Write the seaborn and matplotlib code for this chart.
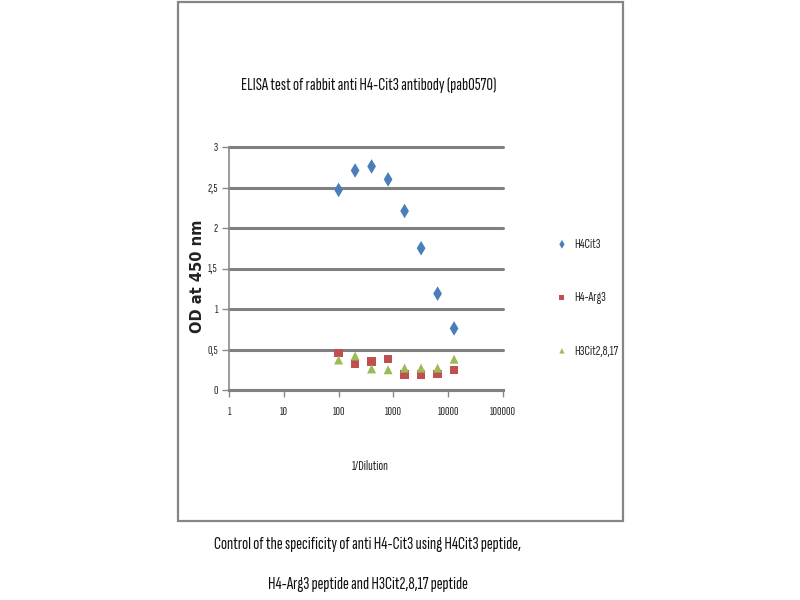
# ELISA titration plot: OD at 450 nm vs 1/dilution for three peptides.

import seaborn as sns
import pandas as pd
import matplotlib
matplotlib.use("Agg")
import matplotlib.pyplot as plt
from matplotlib.ticker import FuncFormatter, FixedLocator, NullLocator
from matplotlib.patches import Rectangle

sns.set_theme(style="white")
narrow = ["Sofia Sans Extra Condensed", "Roboto Condensed", "DejaVu Sans"]
plt.rcParams["font.family"] = narrow
plt.rcParams["font.weight"] = "medium"

# Dilution series (1/dilution).
dilutions = [100, 200, 400, 800, 1600, 3200, 6400, 12800]

# OD readings for each peptide.
h4cit3 = [2.47, 2.71, 2.76, 2.60, 2.21, 1.75, 1.19, 0.76]
h4arg3 = [0.46, 0.32, 0.35, 0.38, 0.19, 0.19, 0.20, 0.25]
h3cit = [0.37, 0.42, 0.26, 0.25, 0.27, 0.27, 0.27, 0.38]

series_names = ["H4Cit3", "H4-Arg3", "H3Cit2,8,17"]
x_ticks = [1, 10, 100, 1000, 10000, 100000]
y_ticks = [0, 0.5, 1, 1.5, 2, 2.5, 3]

df = pd.DataFrame({
    "dilution": dilutions * 3,
    "od": h4cit3 + h4arg3 + h3cit,
    "peptide": [series_names[0]] * 8 + [series_names[1]] * 8 + [series_names[2]] * 8,
})

palette = {"H4Cit3": "#4a7ebb", "H4-Arg3": "#c0504d", "H3Cit2,8,17": "#9bbb59"}
markers = {"H4Cit3": "d", "H4-Arg3": "s", "H3Cit2,8,17": "^"}
sizes = {"H4Cit3": 55, "H4-Arg3": 36, "H3Cit2,8,17": 42}

fig = plt.figure(figsize=(8, 6), dpi=100)

# Outer frame around the chart area.
fig.patches.append(Rectangle((178 / 800, 1 - 521 / 600), (623 - 178) / 800, (521 - 2) / 600,
                             transform=fig.transFigure, fill=False, edgecolor="#858585",
                             linewidth=1.6))

ax = fig.add_axes([229 / 800, 1 - 390 / 600, (503 - 229) / 800, (390 - 147) / 600])

for name in series_names:
    sub = df[df["peptide"] == name]
    sns.scatterplot(data=sub, x="dilution", y="od", color=palette[name], marker=markers[name],
                    s=sizes[name], edgecolor="none", ax=ax, label=name, zorder=3)

ax.set_xscale("log")
ax.set_xlim(1, 100000)
ax.set_ylim(0, 3)
ax.xaxis.set_major_locator(FixedLocator(x_ticks))
ax.xaxis.set_minor_locator(NullLocator())
ax.xaxis.set_major_formatter(FuncFormatter(lambda v, p: "%d" % v))
ax.set_yticks(y_ticks)
ax.yaxis.set_major_formatter(FuncFormatter(lambda v, p: ("%g" % v).replace(".", ",")))

ax.yaxis.grid(True, color="#808080", linewidth=2.2)
for gl in ax.get_ygridlines():
    gl.set_clip_on(False)
ax.set_axisbelow(True)
for side in ["top", "right"]:
    ax.spines[side].set_visible(False)
ax.spines["left"].set_color("#8a8a8a")
ax.spines["bottom"].set_color("#808080")
ax.spines["bottom"].set_linewidth(2.2)
ax.spines["left"].set_linewidth(1.2)
ax.tick_params(axis="both", which="major", direction="out", length=5, width=1,
               color="#8a8a8a", labelsize=9, labelcolor="#222222",
               bottom=True, left=True)
ax.tick_params(axis="y", pad=3)
ax.tick_params(axis="x", pad=7)

ax.set_xlabel("")
ax.set_ylabel("")

ax.legend(loc="upper left", bbox_to_anchor=(555 / 800, 1 - 238 / 600),
          bbox_transform=fig.transFigure, frameon=False, fontsize=10,
          labelspacing=2.9, handlelength=1.0, handletextpad=0.4,
          markerscale=0.6, borderaxespad=0, borderpad=0)

fig.text(369 / 800, 1 - 85 / 600, "ELISA test of rabbit anti H4-Cit3 antibody (pab0570)",
         ha="center", va="center", fontsize=13, color="#111111")
fig.text(198 / 800, 1 - 276 / 600, "OD at 450 nm", rotation=90, ha="center", va="center",
         fontsize=10.5, fontweight="bold", family=["DejaVu Sans"], color="#222222")
fig.text(370 / 800, 1 - 467 / 600, "1/Dilution", ha="center", va="center", fontsize=10,
         color="#222222")
fig.text(368 / 800, 1 - 545 / 600,
         "Control of the specificity of anti H4-Cit3 using H4Cit3 peptide,",
         ha="center", va="center", fontsize=13, color="#111111")
fig.text(368 / 800, 1 - 585 / 600, "H4-Arg3 peptide and H3Cit2,8,17 peptide",
         ha="center", va="center", fontsize=13, color="#111111")

plt.savefig("out.png", dpi=100)
